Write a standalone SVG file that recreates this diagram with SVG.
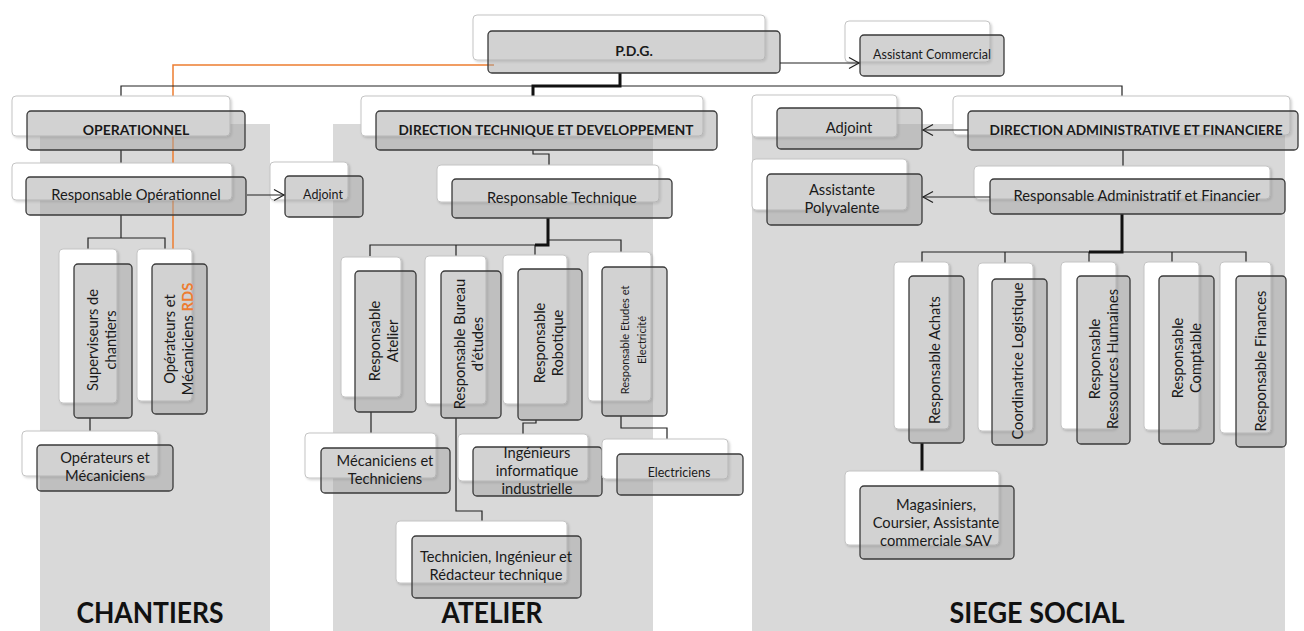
<svg xmlns="http://www.w3.org/2000/svg" width="1304" height="631" viewBox="0 0 1304 631">
<defs>
<style>
.panel{fill:#d9d9d9}
.bk{fill:#ffffff;stroke:#c4c4c4;stroke-width:1;filter:url(#sh)}
.fr{fill:#a6a6a6;fill-opacity:0.5;stroke:#3a3a3a;stroke-width:1.3}
.t{font-family:Lato,"Liberation Sans",sans-serif;font-size:14.7px;fill:#1a1a1a;text-anchor:middle}
.s{font-size:12.5px}
.xs{font-size:11px}
.b{font-weight:bold;font-size:14px}
.big{font-family:Lato,"Liberation Sans",sans-serif;font-size:29px;font-weight:bold;fill:#111;text-anchor:middle}
.ln{fill:none;stroke:#222;stroke-width:1.2}
.th{fill:none;stroke:#111;stroke-width:3}
.or{fill:none;stroke:#ed7d31;stroke-width:1.5}
.ar{fill:none;stroke:#222;stroke-width:1.2;marker-end:url(#arr)}
.rds{fill:#ed7d31;font-weight:bold}
</style>
<filter id="sh" x="-10%" y="-10%" width="130%" height="130%">
<feDropShadow dx="1.5" dy="1.5" stdDeviation="1.2" flood-color="#000" flood-opacity="0.18"/>
</filter>
<marker id="arr" markerUnits="userSpaceOnUse" markerWidth="14" markerHeight="14" refX="11" refY="6" orient="auto">
<path d="M1,0.5 L11,6 L1,11.5" fill="none" stroke="#222" stroke-width="1.2"/>
</marker>
</defs>

<g id="panels">
<rect class="panel" x="40" y="124" width="230" height="507"/>
<rect class="panel" x="333" y="124" width="320" height="507"/>
<rect class="panel" x="752" y="124" width="533" height="507"/>
</g>

<g id="connectors">
<path class="or" d="M173,250 V65 H494"/>
<path class="ln" d="M121,96 V86 H1122 V96"/>
<path class="th" d="M620,73 V86 H533 V96"/>
<path class="ln" d="M121,150 V163"/>
<path class="ln" d="M121,215 V238"/>
<path class="ln" d="M88,250 V238 H165 V250"/>
<path class="ln" d="M90,418 V431"/>
<path class="ln" d="M533,150 V154 H549 V165"/>
<path class="ln" d="M370,256 V245 H548"/>
<path class="ln" d="M456,245 V256"/>
<path class="ln" d="M535,245 V255"/>
<path class="ln" d="M548,240 H621 V252"/>
<path class="th" d="M548,218 V245 H535"/>
<path class="ln" d="M371,412 V433"/>
<path class="ln" d="M456,418 V511 H482 V521"/>
<path class="ln" d="M536,420 V423 H523 V434"/>
<path class="ln" d="M621,416 V428 H667 V439"/>
<path class="ln" d="M1123,150 V166"/>
<path class="ln" d="M922,262 V252 H1246 V262"/>
<path class="ln" d="M1005,252 V263"/>
<path class="ln" d="M1089,252 V262"/>
<path class="ln" d="M1172,252 V262"/>
<path class="th" d="M1122,214 V252 H1089"/>
<path class="th" d="M922,443 V471"/>
</g>

<g id="n-pdg">
<rect class="bk" x="473" y="15" width="292" height="45" rx="4"/>
<rect class="fr" x="488" y="31" width="292" height="42" rx="4"/>
<text class="t b" x="634" y="56">P.D.G.</text>
</g>
<g id="n-assistant-commercial">
<rect class="bk" x="845" y="21" width="145" height="41" rx="4"/>
<rect class="fr" x="860" y="35" width="144" height="41" rx="4"/>
<text class="t s" x="932" y="59">Assistant Commercial</text>
</g>
<g id="n-operationnel">
<rect class="bk" x="12" y="96" width="218" height="40" rx="4"/>
<rect class="fr" x="27" y="111" width="218" height="39" rx="4"/>
<text class="t b" x="136" y="135">OPERATIONNEL</text>
</g>
<g id="n-dtd">
<rect class="bk" x="361" y="96" width="342" height="40" rx="4"/>
<rect class="fr" x="376" y="111" width="341" height="39" rx="4"/>
<text class="t b" x="546" y="135" textLength="295" lengthAdjust="spacingAndGlyphs">DIRECTION TECHNIQUE ET DEVELOPPEMENT</text>
</g>
<g id="n-adjoint-daf">
<rect class="bk" x="752" y="95" width="145" height="42" rx="4"/>
<rect class="fr" x="777" y="108" width="145" height="41" rx="4"/>
<text class="t" x="849" y="133">Adjoint</text>
</g>
<g id="n-daf">
<rect class="bk" x="953" y="96" width="337" height="39" rx="4"/>
<rect class="fr" x="968" y="111" width="330" height="39" rx="4"/>
<text class="t b" x="1136" y="135" textLength="293" lengthAdjust="spacingAndGlyphs">DIRECTION ADMINISTRATIVE ET FINANCIERE</text>
</g>
<g id="n-resp-operationnel">
<rect class="bk" x="12" y="163" width="220" height="37" rx="4"/>
<rect class="fr" x="26" y="177" width="220" height="38" rx="4"/>
<text class="t" x="136" y="200">Responsable Opérationnel</text>
</g>
<g id="n-adjoint-op">
<rect class="bk" x="270" y="162" width="78" height="38" rx="4"/>
<rect class="fr" x="285" y="176" width="78" height="41" rx="4"/>
<text class="t s" x="323" y="199">Adjoint</text>
</g>
<g id="n-resp-technique">
<rect class="bk" x="437" y="165" width="222" height="37" rx="4"/>
<rect class="fr" x="452" y="179" width="220" height="39" rx="4"/>
<text class="t" x="562" y="203">Responsable Technique</text>
</g>
<g id="n-raf">
<rect class="bk" x="974" y="166" width="296" height="33" rx="4"/>
<rect class="fr" x="990" y="179" width="295" height="35" rx="4"/>
<text class="t" x="1137" y="201">Responsable Administratif et Financier</text>
</g>
<g id="n-assistante">
<rect class="bk" x="752" y="159" width="155" height="51" rx="4"/>
<rect class="fr" x="767" y="174" width="155" height="51" rx="4"/>
<text class="t" x="842" y="195">Assistante</text>
<text class="t" x="842" y="213">Polyvalente</text>
</g>

<g id="n-superviseurs">
<rect class="bk" x="59" y="249" width="58" height="154" rx="4"/>
<rect class="fr" x="74" y="264" width="58" height="154" rx="4"/>
<text class="t" transform="translate(98,340) rotate(-90)"><tspan x="0" y="0">Superviseurs de</tspan><tspan x="0" y="18">chantiers</tspan></text>
</g>
<g id="n-operateurs-rds">
<rect class="bk" x="137" y="249" width="55" height="152" rx="4"/>
<rect class="fr" x="152" y="264" width="55" height="150" rx="4"/>
<text class="t" transform="translate(175,339) rotate(-90)"><tspan x="0" y="0">Opérateurs et</tspan><tspan x="0" y="18">Mécaniciens <tspan class="rds">RDS</tspan></tspan></text>
</g>
<g id="n-operateurs-mecaniciens">
<rect class="bk" x="22" y="431" width="136" height="45" rx="4"/>
<rect class="fr" x="37" y="445" width="136" height="46" rx="4"/>
<text class="t" x="105" y="463">Opérateurs et</text>
<text class="t" x="105" y="481">Mécaniciens</text>
</g>

<g id="n-resp-atelier">
<rect class="bk" x="341" y="257" width="60" height="140" rx="4"/>
<rect class="fr" x="355" y="271" width="61" height="141" rx="4"/>
<text class="t" transform="translate(380,341) rotate(-90)"><tspan x="0" y="0">Responsable</tspan><tspan x="0" y="18">Atelier</tspan></text>
</g>
<g id="n-resp-bureau">
<rect class="bk" x="425" y="256" width="61" height="148" rx="4"/>
<rect class="fr" x="441" y="271" width="60" height="147" rx="4"/>
<text class="t" transform="translate(465,344) rotate(-90)"><tspan x="0" y="0">Responsable Bureau</tspan><tspan x="0" y="18">d’études</tspan></text>
</g>
<g id="n-resp-robotique">
<rect class="bk" x="503" y="255" width="64" height="149" rx="4"/>
<rect class="fr" x="518" y="269" width="64" height="151" rx="4"/>
<text class="t" transform="translate(545,343) rotate(-90)"><tspan x="0" y="0">Responsable</tspan><tspan x="0" y="18">Robotique</tspan></text>
</g>
<g id="n-resp-etudes-elec">
<rect class="bk" x="588" y="252" width="63" height="149" rx="4"/>
<rect class="fr" x="602" y="267" width="65" height="149" rx="4"/>
<text class="t xs" transform="translate(629,340) rotate(-90)"><tspan x="0" y="0">Responsable Etudes et</tspan><tspan x="0" y="17">Electricité</tspan></text>
</g>
<g id="n-mecaniciens-techniciens">
<rect class="bk" x="305" y="433" width="131" height="45" rx="4"/>
<rect class="fr" x="321" y="448" width="129" height="45" rx="4"/>
<text class="t" x="385" y="466">Mécaniciens et</text>
<text class="t" x="385" y="484">Techniciens</text>
</g>
<g id="n-ingenieurs">
<rect class="bk" x="458" y="434" width="130" height="47" rx="4"/>
<rect class="fr" x="473" y="447" width="129" height="49" rx="4"/>
<text class="t" x="537" y="458">Ingénieurs</text>
<text class="t" x="537" y="476">informatique</text>
<text class="t" x="537" y="494">industrielle</text>
</g>
<g id="n-electriciens">
<rect class="bk" x="602" y="439" width="126" height="40" rx="4"/>
<rect class="fr" x="617" y="454" width="126" height="41" rx="4"/>
<text class="t s" x="679" y="477">Electriciens</text>
</g>
<g id="n-technicien">
<rect class="bk" x="396" y="521" width="171" height="62" rx="4"/>
<rect class="fr" x="412" y="536" width="169" height="62" rx="4"/>
<text class="t" x="496" y="562">Technicien, Ingénieur et</text>
<text class="t" x="496" y="580">Rédacteur technique</text>
</g>

<g id="n-resp-achats">
<rect class="bk" x="894" y="262" width="55" height="167" rx="4"/>
<rect class="fr" x="909" y="276" width="55" height="167" rx="4"/>
<text class="t" transform="translate(940,360) rotate(-90)">Responsable Achats</text>
</g>
<g id="n-coordinatrice">
<rect class="bk" x="978" y="263" width="55" height="168" rx="4"/>
<rect class="fr" x="992" y="279" width="55" height="166" rx="4"/>
<text class="t" transform="translate(1023,361) rotate(-90)">Coordinatrice Logistique</text>
</g>
<g id="n-rrh">
<rect class="bk" x="1061" y="262" width="55" height="167" rx="4"/>
<rect class="fr" x="1077" y="276" width="53" height="168" rx="4"/>
<text class="t" transform="translate(1100,359) rotate(-90)"><tspan x="0" y="0">Responsable</tspan><tspan x="0" y="18">Ressources Humaines</tspan></text>
</g>
<g id="n-comptable">
<rect class="bk" x="1144" y="262" width="55" height="168" rx="4"/>
<rect class="fr" x="1159" y="276" width="55" height="168" rx="4"/>
<text class="t" transform="translate(1183,358) rotate(-90)"><tspan x="0" y="0">Responsable</tspan><tspan x="0" y="18">Comptable</tspan></text>
</g>
<g id="n-finances">
<rect class="bk" x="1220" y="262" width="51" height="171" rx="4"/>
<rect class="fr" x="1236" y="276" width="50" height="171" rx="4"/>
<text class="t" transform="translate(1266,361) rotate(-90)">Responsable Finances</text>
</g>
<g id="n-magasiniers">
<rect class="bk" x="845" y="471" width="154" height="74" rx="4"/>
<rect class="fr" x="860" y="486" width="154" height="73" rx="4"/>
<text class="t" x="936" y="510">Magasiniers,</text>
<text class="t" x="936" y="528">Coursier, Assistante</text>
<text class="t" x="936" y="546">commerciale SAV</text>
</g>

<g id="arrows">
<path class="ar" d="M780,63 H859"/>
<path class="ar" d="M247,195 H284"/>
<path class="ar" d="M968,130 H923"/>
<path class="ar" d="M990,197 H923"/>
</g>

<g id="labels">
<text class="big" x="150" y="623" textLength="147" lengthAdjust="spacingAndGlyphs">CHANTIERS</text>
<text class="big" x="492" y="623" textLength="101" lengthAdjust="spacingAndGlyphs">ATELIER</text>
<text class="big" x="1037" y="623" textLength="175" lengthAdjust="spacingAndGlyphs">SIEGE SOCIAL</text>
</g>
</svg>
